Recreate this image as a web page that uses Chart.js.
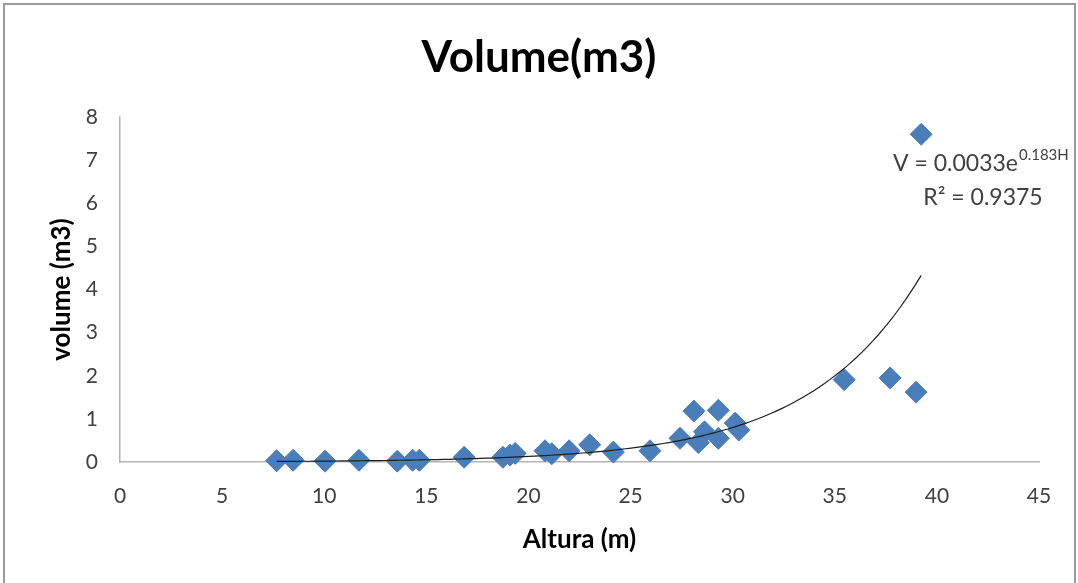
<!DOCTYPE html>
<html>
<head>
<meta charset="utf-8">
<title>Volume(m3)</title>
<script src="https://cdn.jsdelivr.net/npm/chart.js@4.4.1/dist/chart.umd.min.js"></script>
<style>
  html, body { margin: 0; padding: 0; background: #ffffff; }
  #wrap { position: relative; width: 1078px; height: 583px; overflow: hidden; }
  #frame {
    position: absolute; left: 3px; top: 3px; width: 1069px; height: 600px;
    border: 2px solid #9a9a9a; pointer-events: none;
  }
</style>
</head>
<body>
<div id="wrap">
  <canvas id="volumeChart" width="1078" height="583"></canvas>
  <div id="frame"></div>
</div>
<script>
// altura (m) and volume (m3) of each tree
const alturaM = [7.67, 8.48, 10.04, 11.7, 13.58, 14.33, 14.66, 16.85, 18.75, 19.1, 19.35,
  20.81, 21.14, 21.99, 23.0, 24.16, 25.95, 27.42, 28.1, 28.32, 28.62, 29.3, 29.3,
  30.12, 30.3, 35.46, 37.71, 38.98, 39.23];
const volumeM3 = [0.03, 0.04, 0.02, 0.04, 0.02, 0.04, 0.04, 0.11, 0.11, 0.16, 0.2,
  0.26, 0.19, 0.26, 0.4, 0.23, 0.26, 0.55, 1.18, 0.45, 0.7, 1.2, 0.55,
  0.9, 0.74, 1.91, 1.95, 1.62, 7.6];

const xTicks = [0, 5, 10, 15, 20, 25, 30, 35, 40, 45];
const yTicks = [0, 1, 2, 3, 4, 5, 6, 7, 8];

// exponential trendline V = a * e^(b*H)
const trendA = 0.0033;
const trendB = 0.183;
const trendR2 = 0.9375;

const points = alturaM.map((h, i) => ({ x: h, y: volumeM3[i] }));

const hMin = Math.min(...alturaM);
const hMax = Math.max(...alturaM);
const trendPoints = [];
for (let i = 0; i <= 120; i++) {
  const h = hMin + (hMax - hMin) * i / 120;
  trendPoints.push({ x: h, y: trendA * Math.exp(trendB * h) });
}

// equation and R² text next to the trendline
const trendLabel = {
  id: 'trendLabel',
  afterDatasetsDraw(chart) {
    const ctx = chart.ctx;
    const area = chart.chartArea;
    const left = area.right - 146;
    const base1 = area.top + 54;
    ctx.save();
    ctx.fillStyle = '#404040';
    ctx.textBaseline = 'alphabetic';
    ctx.textAlign = 'left';
    ctx.font = '23px Lato';
    const main = 'V = ' + trendA + 'e';
    ctx.fillText(main, left, base1);
    const w = ctx.measureText(main).width;
    ctx.font = '15px Lato';
    ctx.fillText(trendB + 'H', left + w + 1, base1 - 11);

    ctx.font = '23px Lato';
    ctx.textAlign = 'center';
    ctx.fillText('R\u00b2 = ' + trendR2, area.right - 56, base1 + 34);
    ctx.restore();
  }
};

const ctx = document.getElementById('volumeChart').getContext('2d');
new Chart(ctx, {
  type: 'scatter',
  data: {
    datasets: [
      {
        type: 'line',
        label: 'trend',
        data: trendPoints,
        borderColor: '#1e1e1e',
        borderWidth: 1.2,
        pointRadius: 0,
        fill: false,
        tension: 0,
        clip: false,
      },
      {
        label: 'Volume(m3)',
        data: points,
        pointStyle: 'rectRot',
        pointRadius: 11,
        pointHoverRadius: 11,
        backgroundColor: '#4a7ebb',
        borderColor: '#4a7ebb',
        borderWidth: 1,
        clip: false,
      },
    ],
  },
  options: {
    responsive: false,
    animation: false,
    layout: {
      padding: 0,
    },
    plugins: {
      legend: { display: false },
      tooltip: { enabled: false },
      title: {
        display: true,
        text: 'Volume(m3)',
        color: '#000000',
        font: { family: 'Lato', size: 44, weight: 'bold' },
        padding: { top: 31, bottom: 33.2 },
      },
    },
    scales: {
      x: {
        type: 'linear',
        min: 0,
        max: 45,
        afterBuildTicks: (scale) => {
          scale.ticks = xTicks.map((v) => ({ value: v }));
        },
        afterFit: (scale) => {
          scale.height = 121;
        },
        grid: { display: false, drawTicks: false },
        border: { display: true, color: '#b4b4b4', width: 1.5 },
        ticks: {
          color: '#404040',
          font: { family: 'Lato', size: 21 },
          padding: 22,
          maxRotation: 0,
        },
        title: {
          display: true,
          text: 'Altura (m)',
          color: '#000000',
          font: { family: 'Lato', size: 26, weight: 'bold' },
          padding: { top: 0, bottom: 27.4 },
        },
      },
      y: {
        type: 'linear',
        min: 0,
        max: 8,
        afterBuildTicks: (scale) => {
          scale.ticks = yTicks.map((v) => ({ value: v }));
        },
        afterFit: (scale) => {
          scale.width = 120;
        },
        grid: { display: false, drawTicks: false },
        border: { display: true, color: '#b4b4b4', width: 1.5 },
        ticks: {
          color: '#404040',
          font: { family: 'Lato', size: 21 },
          padding: 22,
        },
        title: {
          display: true,
          text: 'volume (m3)',
          color: '#000000',
          font: { family: 'Lato', size: 26, weight: 'bold' },
          padding: { top: 46.4, bottom: 0 },
        },
      },
      // empty strip on the right side of the plot
      yRight: {
        type: 'linear',
        position: 'right',
        afterFit: (scale) => {
          scale.width = 39;
        },
        grid: { display: false, drawTicks: false },
        border: { display: false },
        ticks: { display: false },
      },
    },
  },
  plugins: [trendLabel],
});
</script>
</body>
</html>
